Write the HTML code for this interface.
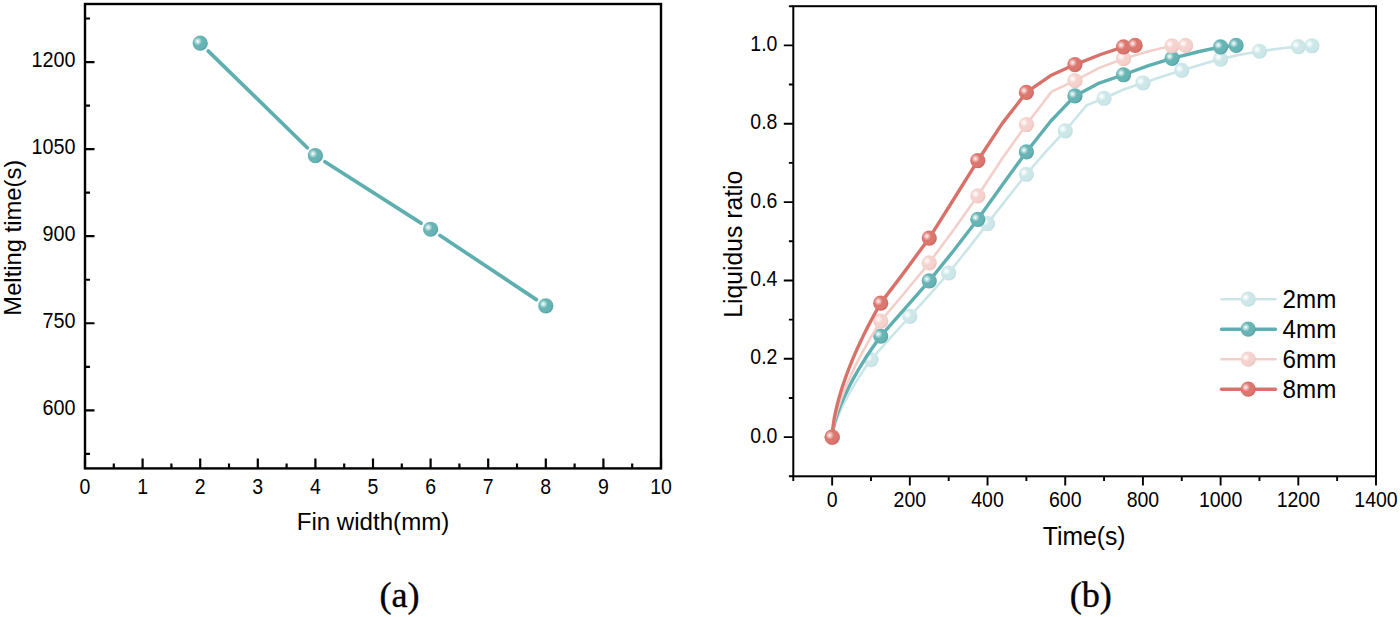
<!DOCTYPE html><html><head><meta charset="utf-8"><style>html,body{margin:0;padding:0;background:#fff}svg{display:block}text{font-family:"Liberation Sans",sans-serif;fill:#000}.s{font-family:"Liberation Serif",serif}</style></head><body>
<svg width="1400" height="617" viewBox="0 0 1400 617">
<defs>
<radialGradient id="gT" cx="0.36" cy="0.38" r="0.7" fx="0.335" fy="0.375"><stop offset="0" stop-color="#fff"/><stop offset="0.1" stop-color="#d8eeee"/><stop offset="0.4" stop-color="#68b4b5"/><stop offset="0.72" stop-color="#68b4b5"/><stop offset="1" stop-color="#4f9fa0"/></radialGradient>
<radialGradient id="gL" cx="0.36" cy="0.38" r="0.7" fx="0.335" fy="0.375"><stop offset="0" stop-color="#fff"/><stop offset="0.1" stop-color="#f4fbfb"/><stop offset="0.4" stop-color="#cde7e9"/><stop offset="0.72" stop-color="#cde7e9"/><stop offset="1" stop-color="#bcdcdf"/></radialGradient>
<radialGradient id="gP" cx="0.36" cy="0.38" r="0.7" fx="0.335" fy="0.375"><stop offset="0" stop-color="#fff"/><stop offset="0.1" stop-color="#fdf3f1"/><stop offset="0.4" stop-color="#f4d2cd"/><stop offset="0.72" stop-color="#f4d2cd"/><stop offset="1" stop-color="#ecc0ba"/></radialGradient>
<radialGradient id="gR" cx="0.36" cy="0.38" r="0.7" fx="0.335" fy="0.375"><stop offset="0" stop-color="#fff"/><stop offset="0.1" stop-color="#f8d6d2"/><stop offset="0.4" stop-color="#dc7770"/><stop offset="0.72" stop-color="#dc7770"/><stop offset="1" stop-color="#c9605a"/></radialGradient>
</defs>
<rect width="1400" height="617" fill="#fff"/>
<rect x="85.0" y="4.0" width="576.0" height="464.4" fill="none" stroke="#000" stroke-width="2.4"/>
<path d="M85.00 468.4V458.4M142.60 468.4V458.4M200.20 468.4V458.4M257.80 468.4V458.4M315.40 468.4V458.4M373.00 468.4V458.4M430.60 468.4V458.4M488.20 468.4V458.4M545.80 468.4V458.4M603.40 468.4V458.4M661.00 468.4V458.4M113.80 468.4V463.4M171.40 468.4V463.4M229.00 468.4V463.4M286.60 468.4V463.4M344.20 468.4V463.4M401.80 468.4V463.4M459.40 468.4V463.4M517.00 468.4V463.4M574.60 468.4V463.4M632.20 468.4V463.4M85.0 62.05H94.5M85.0 149.12H94.5M85.0 236.20H94.5M85.0 323.27H94.5M85.0 410.35H94.5M85.0 18.51H90.0M85.0 105.59H90.0M85.0 192.66H90.0M85.0 279.74H90.0M85.0 366.81H90.0M85.0 453.89H90.0" stroke="#000" stroke-width="2.2" fill="none"/>
<text transform="translate(85.00 493.70) scale(1 1.1)" font-size="19.5" text-anchor="middle">0</text>
<text transform="translate(142.60 493.70) scale(1 1.1)" font-size="19.5" text-anchor="middle">1</text>
<text transform="translate(200.20 493.70) scale(1 1.1)" font-size="19.5" text-anchor="middle">2</text>
<text transform="translate(257.80 493.70) scale(1 1.1)" font-size="19.5" text-anchor="middle">3</text>
<text transform="translate(315.40 493.70) scale(1 1.1)" font-size="19.5" text-anchor="middle">4</text>
<text transform="translate(373.00 493.70) scale(1 1.1)" font-size="19.5" text-anchor="middle">5</text>
<text transform="translate(430.60 493.70) scale(1 1.1)" font-size="19.5" text-anchor="middle">6</text>
<text transform="translate(488.20 493.70) scale(1 1.1)" font-size="19.5" text-anchor="middle">7</text>
<text transform="translate(545.80 493.70) scale(1 1.1)" font-size="19.5" text-anchor="middle">8</text>
<text transform="translate(603.40 493.70) scale(1 1.1)" font-size="19.5" text-anchor="middle">9</text>
<text transform="translate(661.00 493.70) scale(1 1.1)" font-size="19.5" text-anchor="middle">10</text>
<text transform="translate(75.50 66.95) scale(1 1.085)" font-size="19.8" text-anchor="end">1200</text>
<text transform="translate(75.50 154.03) scale(1 1.085)" font-size="19.8" text-anchor="end">1050</text>
<text transform="translate(75.50 241.10) scale(1 1.085)" font-size="19.8" text-anchor="end">900</text>
<text transform="translate(75.50 328.17) scale(1 1.085)" font-size="19.8" text-anchor="end">750</text>
<text transform="translate(75.50 415.25) scale(1 1.085)" font-size="19.8" text-anchor="end">600</text>
<text transform="translate(373.00 530.20) scale(1 1.03)" font-size="24.1" text-anchor="middle">Fin width(mm)</text>
<text transform="translate(21.30 237.70) rotate(-90) scale(1 1.03)" font-size="23.8" text-anchor="middle">Melting time(s)</text>
<line x1="208.29" y1="51.08" x2="307.31" y2="147.73" stroke="#5fafb0" stroke-width="3.7" stroke-linecap="round"/>
<line x1="324.92" y1="161.71" x2="421.08" y2="223.15" stroke="#5fafb0" stroke-width="3.7" stroke-linecap="round"/>
<line x1="440.01" y1="235.49" x2="536.39" y2="299.60" stroke="#5fafb0" stroke-width="3.7" stroke-linecap="round"/>
<circle cx="200.20" cy="43.18" r="7.6" fill="url(#gT)"/>
<circle cx="315.40" cy="155.63" r="7.6" fill="url(#gT)"/>
<circle cx="430.60" cy="229.23" r="7.6" fill="url(#gT)"/>
<circle cx="545.80" cy="305.86" r="7.6" fill="url(#gT)"/>
<text class="s" x="399.6" y="607.3" font-size="36.2" text-anchor="middle" stroke="#000" stroke-width="0.35">(a)</text>
<rect x="793.3" y="6.2" width="582.7" height="470.1" fill="none" stroke="#000" stroke-width="2.0"/>
<path d="M832.15 476.3v9.2M909.84 476.3v9.2M987.53 476.3v9.2M1065.23 476.3v9.2M1142.92 476.3v9.2M1220.61 476.3v9.2M1298.31 476.3v9.2M1376.00 476.3v9.2M793.30 476.3v4.6M870.99 476.3v4.6M948.69 476.3v4.6M1026.38 476.3v4.6M1104.07 476.3v4.6M1181.77 476.3v4.6M1259.46 476.3v4.6M1337.15 476.3v4.6M793.3 437.12h-9.5M793.3 358.78h-9.5M793.3 280.43h-9.5M793.3 202.08h-9.5M793.3 123.73h-9.5M793.3 45.38h-9.5M793.3 476.30h-4.4M793.3 397.95h-4.4M793.3 319.60h-4.4M793.3 241.25h-4.4M793.3 162.90h-4.4M793.3 84.55h-4.4M793.3 6.20h-4.4" stroke="#000" stroke-width="1.9" fill="none"/>
<text transform="translate(832.15 507.20) scale(1 1.1)" font-size="19.5" text-anchor="middle">0</text>
<text transform="translate(909.84 507.20) scale(1 1.1)" font-size="19.5" text-anchor="middle">200</text>
<text transform="translate(987.53 507.20) scale(1 1.1)" font-size="19.5" text-anchor="middle">400</text>
<text transform="translate(1065.23 507.20) scale(1 1.1)" font-size="19.5" text-anchor="middle">600</text>
<text transform="translate(1142.92 507.20) scale(1 1.1)" font-size="19.5" text-anchor="middle">800</text>
<text transform="translate(1220.61 507.20) scale(1 1.1)" font-size="19.5" text-anchor="middle">1000</text>
<text transform="translate(1298.31 507.20) scale(1 1.1)" font-size="19.5" text-anchor="middle">1200</text>
<text transform="translate(1376.00 507.20) scale(1 1.1)" font-size="19.5" text-anchor="middle">1400</text>
<text transform="translate(777.40 442.82) scale(1 1.1)" font-size="19.5" text-anchor="end">0.0</text>
<text transform="translate(777.40 364.48) scale(1 1.1)" font-size="19.5" text-anchor="end">0.2</text>
<text transform="translate(777.40 286.13) scale(1 1.1)" font-size="19.5" text-anchor="end">0.4</text>
<text transform="translate(777.40 207.78) scale(1 1.1)" font-size="19.5" text-anchor="end">0.6</text>
<text transform="translate(777.40 129.43) scale(1 1.1)" font-size="19.5" text-anchor="end">0.8</text>
<text transform="translate(777.40 51.08) scale(1 1.1)" font-size="19.5" text-anchor="end">1.0</text>
<text transform="translate(1084.10 544.50) scale(1 1.04)" font-size="24.7" text-anchor="middle">Time(s)</text>
<text transform="translate(741.60 244.30) rotate(-90) scale(1 1.05)" font-size="24.75" text-anchor="middle">Liquidus ratio</text>
<path d="M832.15 437.12L832.39 434.92L832.88 432.33L833.54 429.57L834.36 426.70L835.30 423.74L836.37 420.71L837.56 417.61L838.84 414.46L840.23 411.27L841.72 408.03L843.30 404.75L844.96 401.44L846.71 398.09L848.55 394.71L850.46 391.30L852.45 387.87L854.52 384.41L856.66 380.92L858.88 377.42L861.16 373.89L863.52 370.33L865.94 366.76L868.44 363.17L870.99 359.56L888.61 339.90L909.84 316.47L929.26 295.09L948.69 272.98L968.11 248.64L987.53 223.62L1006.96 198.60L1026.38 174.26L1045.80 151.55L1065.23 130.78L1086.59 105.31L1104.07 98.26L1123.50 89.47L1142.92 82.98L1162.34 76.49L1181.77 70.45L1201.19 64.50L1220.61 59.09L1240.04 54.78L1259.46 51.25L1280.34 48.49L1298.31 46.55L1311.90 45.77" fill="none" stroke="#cbe6e8" stroke-width="2.6" stroke-linejoin="round" stroke-linecap="round"/>
<circle cx="832.15" cy="437.12" r="7.6" fill="url(#gL)"/>
<circle cx="870.99" cy="359.56" r="7.6" fill="url(#gL)"/>
<circle cx="909.84" cy="316.47" r="7.6" fill="url(#gL)"/>
<circle cx="948.69" cy="272.98" r="7.6" fill="url(#gL)"/>
<circle cx="987.53" cy="223.62" r="7.6" fill="url(#gL)"/>
<circle cx="1026.38" cy="174.26" r="7.6" fill="url(#gL)"/>
<circle cx="1065.23" cy="130.78" r="7.6" fill="url(#gL)"/>
<circle cx="1104.07" cy="98.26" r="7.6" fill="url(#gL)"/>
<circle cx="1142.92" cy="82.98" r="7.6" fill="url(#gL)"/>
<circle cx="1181.77" cy="70.45" r="7.6" fill="url(#gL)"/>
<circle cx="1220.61" cy="59.09" r="7.6" fill="url(#gL)"/>
<circle cx="1259.46" cy="51.25" r="7.6" fill="url(#gL)"/>
<circle cx="1298.31" cy="46.55" r="7.6" fill="url(#gL)"/>
<circle cx="1311.90" cy="45.77" r="7.6" fill="url(#gL)"/>
<path d="M832.15 437.12L832.45 433.60L833.06 429.80L833.89 425.88L834.91 421.89L836.09 417.84L837.43 413.74L838.91 409.61L840.52 405.44L842.26 401.25L844.11 397.03L846.08 392.78L848.16 388.51L850.35 384.23L852.65 379.92L855.04 375.60L857.53 371.26L860.11 366.90L862.79 362.53L865.56 358.15L868.42 353.75L871.36 349.35L874.39 344.93L877.51 340.50L880.70 336.05L902.72 311.22L929.26 280.82L953.54 250.77L977.82 219.31L1002.10 185.31L1026.38 151.93L1050.66 121.25L1074.94 95.91L1099.22 83.05L1123.50 74.76L1147.78 65.96L1172.05 58.30L1198.24 51.76L1220.61 46.94L1236.15 45.38" fill="none" stroke="#5fafb0" stroke-width="3.4" stroke-linejoin="round" stroke-linecap="round"/>
<circle cx="832.15" cy="437.12" r="7.6" fill="url(#gT)"/>
<circle cx="880.70" cy="336.05" r="7.6" fill="url(#gT)"/>
<circle cx="929.26" cy="280.82" r="7.6" fill="url(#gT)"/>
<circle cx="977.82" cy="219.31" r="7.6" fill="url(#gT)"/>
<circle cx="1026.38" cy="151.93" r="7.6" fill="url(#gT)"/>
<circle cx="1074.94" cy="95.91" r="7.6" fill="url(#gT)"/>
<circle cx="1123.50" cy="74.76" r="7.6" fill="url(#gT)"/>
<circle cx="1172.05" cy="58.30" r="7.6" fill="url(#gT)"/>
<circle cx="1220.61" cy="46.94" r="7.6" fill="url(#gT)"/>
<circle cx="1236.15" cy="45.38" r="7.6" fill="url(#gT)"/>
<path d="M832.15 437.12L832.45 433.08L833.06 428.72L833.89 424.22L834.91 419.64L836.09 415.00L837.43 410.30L838.91 405.56L840.52 400.78L842.26 395.96L844.11 391.12L846.08 386.25L848.16 381.35L850.35 376.43L852.65 371.49L855.04 366.53L857.53 361.56L860.11 356.56L862.79 351.55L865.56 346.52L868.42 341.47L871.36 336.42L874.39 331.35L877.51 326.26L880.70 321.17L902.72 294.97L929.26 262.80L953.54 230.05L977.82 195.81L1002.10 158.82L1026.38 124.51L1051.63 91.60L1074.94 80.63L1099.22 67.88L1123.50 58.69L1149.79 50.99L1172.05 45.77L1185.65 45.38" fill="none" stroke="#f3cfca" stroke-width="2.6" stroke-linejoin="round" stroke-linecap="round"/>
<circle cx="832.15" cy="437.12" r="7.6" fill="url(#gP)"/>
<circle cx="880.70" cy="321.17" r="7.6" fill="url(#gP)"/>
<circle cx="929.26" cy="262.80" r="7.6" fill="url(#gP)"/>
<circle cx="977.82" cy="195.81" r="7.6" fill="url(#gP)"/>
<circle cx="1026.38" cy="124.51" r="7.6" fill="url(#gP)"/>
<circle cx="1074.94" cy="80.63" r="7.6" fill="url(#gP)"/>
<circle cx="1123.50" cy="58.69" r="7.6" fill="url(#gP)"/>
<circle cx="1172.05" cy="45.77" r="7.6" fill="url(#gP)"/>
<circle cx="1185.65" cy="45.38" r="7.6" fill="url(#gP)"/>
<path d="M832.15 437.12L832.45 431.68L833.06 426.18L833.89 420.65L834.91 415.11L836.09 409.56L837.43 404.00L838.91 398.43L840.52 392.86L842.26 387.28L844.11 381.69L846.08 376.10L848.16 370.51L850.35 364.91L852.65 359.31L855.04 353.70L857.53 348.10L860.11 342.49L862.79 336.87L865.56 331.26L868.42 325.64L871.36 320.02L874.39 314.40L877.51 308.77L880.70 303.15L902.72 274.13L929.26 238.12L953.54 199.51L977.82 160.55L1002.10 123.60L1026.38 92.39L1050.66 75.56L1074.94 64.57L1101.35 54.24L1123.50 46.94L1135.15 45.38" fill="none" stroke="#d9716b" stroke-width="3.4" stroke-linejoin="round" stroke-linecap="round"/>
<circle cx="832.15" cy="437.12" r="7.6" fill="url(#gR)"/>
<circle cx="880.70" cy="303.15" r="7.6" fill="url(#gR)"/>
<circle cx="929.26" cy="238.12" r="7.6" fill="url(#gR)"/>
<circle cx="977.82" cy="160.55" r="7.6" fill="url(#gR)"/>
<circle cx="1026.38" cy="92.39" r="7.6" fill="url(#gR)"/>
<circle cx="1074.94" cy="64.57" r="7.6" fill="url(#gR)"/>
<circle cx="1123.50" cy="46.94" r="7.6" fill="url(#gR)"/>
<circle cx="1135.15" cy="45.38" r="7.6" fill="url(#gR)"/>
<line x1="1221.5" y1="299.20" x2="1275.5" y2="299.20" stroke="#cbe6e8" stroke-width="2.4" stroke-linecap="round"/>
<circle cx="1248.2" cy="299.20" r="7.6" fill="url(#gL)"/>
<text transform="translate(1282.60 307.60) scale(1 1.05)" font-size="24.2" text-anchor="start">2mm</text>
<line x1="1221.5" y1="329.20" x2="1275.5" y2="329.20" stroke="#5fafb0" stroke-width="3.4" stroke-linecap="round"/>
<circle cx="1248.2" cy="329.20" r="7.6" fill="url(#gT)"/>
<text transform="translate(1282.60 337.60) scale(1 1.05)" font-size="24.2" text-anchor="start">4mm</text>
<line x1="1221.5" y1="359.20" x2="1275.5" y2="359.20" stroke="#f3cfca" stroke-width="2.4" stroke-linecap="round"/>
<circle cx="1248.2" cy="359.20" r="7.6" fill="url(#gP)"/>
<text transform="translate(1282.60 367.60) scale(1 1.05)" font-size="24.2" text-anchor="start">6mm</text>
<line x1="1221.5" y1="389.20" x2="1275.5" y2="389.20" stroke="#d9716b" stroke-width="3.4" stroke-linecap="round"/>
<circle cx="1248.2" cy="389.20" r="7.6" fill="url(#gR)"/>
<text transform="translate(1282.60 397.60) scale(1 1.05)" font-size="24.2" text-anchor="start">8mm</text>
<text class="s" x="1090.8" y="607.3" font-size="36.2" text-anchor="middle" stroke="#000" stroke-width="0.35">(b)</text>
</svg></body></html>
